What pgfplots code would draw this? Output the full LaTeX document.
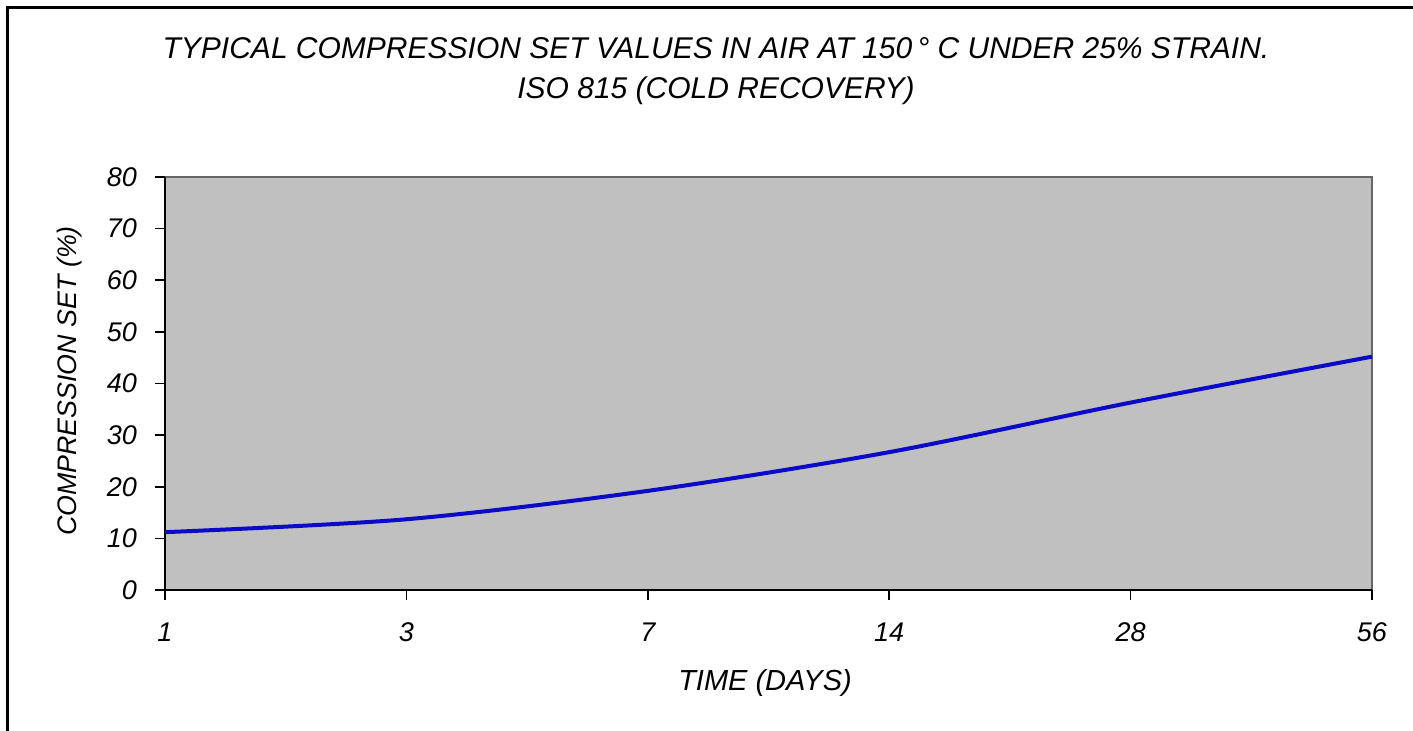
\documentclass[border=0pt]{standalone}
\usepackage{pgfplots}
\pgfplotsset{compat=1.18}
\usepackage{fontspec}
\setmainfont{Liberation Sans}
\definecolor{plotbg}{RGB}{192,192,192}
\definecolor{curve}{RGB}{10,10,200}
\begin{document}
\begin{tikzpicture}[x=1pt,y=1pt]
\useasboundingbox (0,0) rectangle (706.5,365.5);
\fill[white] (0,0) rectangle (706.5,365.5);
\draw[line width=1.5pt] (3.5,0) -- (3.5,361.5) -- (706.5,361.5);
\node[font=\itshape\fontsize{15}{18}\selectfont] at (358,341.5) {TYPICAL COMPRESSION SET VALUES IN AIR AT 150\,\textdegree\ C UNDER 25\% STRAIN.};
\node[font=\itshape\fontsize{15}{18}\selectfont] at (358,320) {ISO 815 (COLD RECOVERY)};
\node[font=\itshape\fontsize{14.5}{17}\selectfont] at (382.5,24) {TIME (DAYS)};
\node[font=\itshape\fontsize{13.4}{16}\selectfont, rotate=90] at (35,175) {COMPRESSION SET (\%)};
\begin{axis}[
  at={(82.5pt,70.5pt)}, anchor=south west,
  scale only axis, width=603.5pt, height=206.5pt,
  xmin=0, xmax=5, ymin=0, ymax=80,
  xtick={0,1,2,3,4,5},
  xticklabels={1,3,7,14,28,56},
  ytick={0,10,...,80},
  axis background/.style={fill=plotbg},
  axis line style={draw=none},
  tick align=outside,
  major tick length=5pt,
  tick style={black, line width=0.8pt},
  xtick pos=bottom, ytick pos=left,
  /pgf/number format/assume math mode=true,
  ticklabel style={font=\itshape\fontsize{13.5}{16}\selectfont},
  yticklabel style={xshift=-5.5pt},
  xticklabel style={yshift=-8pt},
  clip=false,
]
\draw[gray!80!black, line width=0.6pt] (axis cs:0,80) -- (axis cs:5,80) -- (axis cs:5,0);
\draw[black, line width=1pt] (axis cs:0,80) -- (axis cs:0,0) -- (axis cs:5,0);
\addplot[curve, line width=2pt, smooth, tension=0.5, no marks] coordinates {
 (0,11.2) (1,13.7) (2,19.2) (3,26.7) (4,36.3) (5,45.2)
};
\end{axis}
\end{tikzpicture}
\end{document}
